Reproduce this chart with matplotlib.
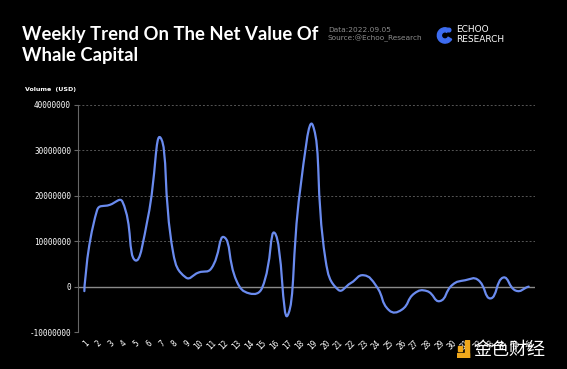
import numpy as np
import matplotlib
matplotlib.use("Agg")
import matplotlib.pyplot as plt
from matplotlib.path import Path
from matplotlib.patches import PathPatch, Wedge, Rectangle

weeks = [str(i) for i in range(1, 37)]
net_value = [
    -1.0e6, 16.8e6, 18.0e6, 18.7e6, 5.8e6, 15.1e6, 32.8e6, 7.4e6, 2.0e6, 3.1e6,
    4.0e6, 10.9e6, 1.2e6, -1.5e6, -0.3e6, 11.8e6, -6.4e6, 21.3e6, 35.5e6, 5.9e6,
    -0.7e6, 0.8e6, 2.5e6, 0.1e6, -5.2e6, -5.1e6, -1.5e6, -1.0e6, -3.2e6, 0.4e6,
    1.4e6, 1.5e6, -2.6e6, 2.0e6, -0.9e6, 0.0,
]
y_ticks = [-10000000, 0, 10000000, 20000000, 30000000, 40000000]

BG = "black"
LINE = "#6a8bef"


def smooth_path(xs, ys, yscale, smooth=0.5):
    # bezier smoothing similar to echarts "smooth: true"
    px = np.asarray(xs, float)
    py = np.asarray(ys, float) * yscale
    n = len(px)
    verts = [(px[0], py[0])]
    codes = [Path.MOVETO]
    cp0 = (px[0], py[0])
    for i in range(1, n):
        x, y = px[i], py[i]
        prev = (px[i - 1], py[i - 1])
        nxt = (px[i + 1], py[i + 1]) if i < n - 1 else (x, y)
        vx, vy = nxt[0] - prev[0], nxt[1] - prev[1]
        l0 = np.hypot(x - prev[0], y - prev[1])
        l1 = np.hypot(nxt[0] - x, nxt[1] - y)
        r = l1 / (l0 + l1) if (l0 + l1) > 0 else 0.5
        cp1 = (x - vx * smooth * (1 - r), y - vy * smooth * (1 - r))
        verts += [cp0, cp1, (x, y)]
        codes += [Path.CURVE4] * 3
        cp0 = (x + vx * smooth * r, y + vy * smooth * r)
    verts = [(a, b / yscale) for a, b in verts]
    return Path(verts, codes)


fig = plt.figure(figsize=(5.67, 3.69), dpi=100, facecolor=BG)
ax = fig.add_axes([78 / 567, 1 - 332 / 369, (535 - 78) / 567, (332 - 105) / 369])
ax.set_facecolor(BG)

x = np.arange(len(weeks))
# pixel-ish scale: 12.7 px per category, 45.5 px per 10M
path = smooth_path(x, net_value, yscale=(45.5 / 12.7) / 1e7)
ax.add_patch(PathPatch(path, facecolor="none", edgecolor=LINE, lw=1.6,
                       capstyle="round", joinstyle="round", zorder=3))

ax.set_xlim(-0.5, len(weeks) - 0.5)
ax.set_ylim(-10000000, 40000000)

for v in y_ticks:
    if v == 0:
        ax.axhline(v, color="#8a8a8a", lw=1.0, zorder=2)
    else:
        ax.axhline(v, color="#555555", lw=0.7, ls=(0, (2, 2)), zorder=1)

for s in ["top", "right", "bottom"]:
    ax.spines[s].set_visible(False)
ax.spines["left"].set_color("#666666")
ax.spines["left"].set_linewidth(0.8)

ax.set_yticks(y_ticks)
ax.set_yticklabels([str(v) for v in y_ticks])
ax.tick_params(axis="y", colors="#666666", length=3, width=0.8, pad=2,
               labelcolor="white", labelsize=5.5)
for lab in ax.get_yticklabels():
    lab.set_family("DejaVu Sans Mono")

ax.set_xticks(x)
ax.set_xticklabels(weeks, rotation=45, ha="right", va="top",
                   rotation_mode="anchor", fontsize=5.5, color="white",
                   family="DejaVu Sans Mono")
ax.tick_params(axis="x", length=0, pad=5)

# title and header texts
fig.text(22 / 567, 1 - 26 / 369, "Weekly Trend On The Net Value Of\nWhale Capital",
         color="white", fontsize=13.3, fontweight="bold", family="Lato",
         ha="left", va="top", linespacing=1.3)
fig.text(328 / 567, 1 - 30 / 369, "Data:2022.09.05", color="#8c8c8c",
         fontsize=5.3, ha="left", va="center")
fig.text(328 / 567, 1 - 38 / 369, "Source:@Echoo_Research", color="#8c8c8c",
         fontsize=5.3, ha="left", va="center")
fig.text(456 / 567, 1 - 29 / 369, "ECHOO", color="white", fontsize=6.5,
         ha="left", va="center")
fig.text(456 / 567, 1 - 39 / 369, "RESEARCH", color="white", fontsize=6.5,
         ha="left", va="center")
fig.text(25 / 567, 1 - 90 / 369, "Volume  (USD)", color="white", fontsize=4.5,
         fontweight="bold", ha="left", va="center")

# logo mark
lax = fig.add_axes([436 / 567, 1 - 44 / 369, 18 / 567, 18 / 369])
lax.set_xlim(-1, 1)
lax.set_ylim(-1, 1)
lax.set_aspect("equal")
lax.axis("off")
lax.add_patch(Wedge((0, -0.05), 0.85, 60, 330, width=0.45, color="#3d6cf0"))
lax.add_patch(Wedge((0.45, 0.55), 0.2, 0, 360, color="#3d6cf0"))

# watermark
wax = fig.add_axes([457 / 567, 1 - 358 / 369, 14 / 567, 18 / 369])
wax.set_xlim(0, 1)
wax.set_ylim(0, 1)
wax.axis("off")
wax.add_patch(Rectangle((0.55, 0.0), 0.3, 1.0, color="#f0a81c"))
wax.add_patch(Rectangle((0.0, 0.0), 0.85, 0.28, color="#f0a81c"))
wax.add_patch(Rectangle((0.1, 0.4), 0.28, 0.25, color="#f0a81c"))
fig.text(473 / 567, 1 - 350 / 369, "金色财经", color="white", fontsize=13,
         family=["Noto Sans CJK SC", "DejaVu Sans"], ha="left", va="center")

fig.savefig("out.png", dpi=100, facecolor=BG)
